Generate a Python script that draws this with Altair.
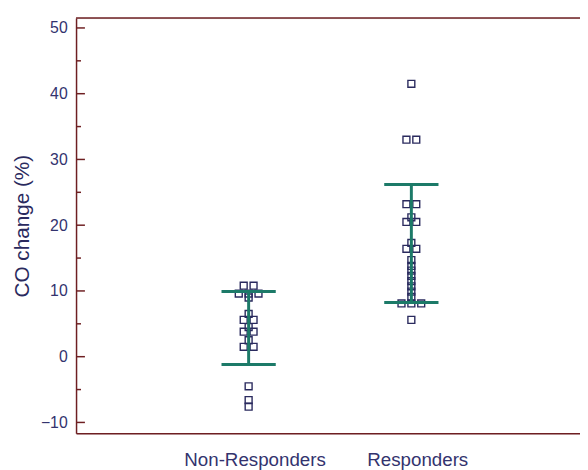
import altair as alt
import pandas as pd

# Categories
groups = ["Non-Responders", "Responders"]
group_pos = [1, 2]

# Individual values (CO change %) and dodge slot for overlapping points
nr_values = [10.8, 10.8, 9.6, 9.6, 9.6, 9.0, 6.5, 5.6, 5.6, 4.5, 3.8, 3.8, 2.5, 1.5, 1.5, -4.5, -6.6, -7.6]
nr_slots = [-0.5, 0.5, -1, 0, 1, 0, 0, -0.5, 0.5, 0, -0.5, 0.5, 0, -0.5, 0.5, 0, 0, 0]

r_values = [41.5, 33.0, 33.0, 23.2, 23.2, 21.2, 20.5, 20.5, 17.3, 16.4, 16.4,
            14.7, 13.8, 13.1, 12.3, 11.5, 10.7, 9.9, 9.1, 8.1, 8.1, 8.1, 5.6]
r_slots = [0, -0.5, 0.5, -0.5, 0.5, 0, -0.5, 0.5, 0, -0.5, 0.5,
           0, 0, 0, 0, 0, 0, 0, 0, -1, 0, 1, 0]

# Error bar extents (low, high)
bar_low = [-1.2, 8.25]
bar_high = [9.9, 26.2]

# Axis ticks
major_ticks = [-10, 0, 10, 20, 30, 40, 50]
minor_ticks = [-5, 5, 15, 25, 35, 45]

NAVY = "#2a2a5e"
LABEL = "#33336e"
TEAL = "#1c7a68"
AXIS = "#6e1f22"

pts = pd.DataFrame({
    "group": [groups[0]] * len(nr_values) + [groups[1]] * len(r_values),
    "pos": [group_pos[0]] * len(nr_values) + [group_pos[1]] * len(r_values),
    "value": nr_values + r_values,
    "slot": nr_slots + r_slots,
})
bars = pd.DataFrame({"group": groups, "pos": group_pos, "low": bar_low, "high": bar_high})
majors = pd.DataFrame({"v": major_ticks})
minors = pd.DataFrame({"v": minor_ticks})

W, H = 511, 421
xscale = alt.Scale(domain=[-0.0606, 3.0364], nice=False, zero=False)
yscale = alt.Scale(domain=[-11.65, 51.5], nice=False, zero=False)

label_expr = "datum.value == %d ? '%s' : '%s'" % (group_pos[0], groups[0], groups[1])

xaxis = alt.Axis(values=group_pos, labelExpr=label_expr, title=None, ticks=False,
                 grid=False, domainColor=AXIS, domainWidth=1.5, labelColor=LABEL,
                 labelFontSize=19, labelPadding=18, labelOffset=6, labelFont="Liberation Sans")
yaxis = alt.Axis(values=major_ticks, title="CO change (%)", ticks=False, grid=False,
                 domainColor=AXIS, domainWidth=1.5, labelColor=LABEL, labelFontSize=16,
                 labelPadding=9, labelFont="Liberation Sans", titleFont="Liberation Sans",
                 titleFontSize=21, titleFontWeight="normal", titleColor=NAVY, titlePadding=8)

points = alt.Chart(pts).transform_calculate(
    xj="datum.pos + datum.slot * 0.0606"
).mark_point(shape="square", filled=False, size=49, strokeWidth=1.4, color=NAVY, opacity=1).encode(
    x=alt.X("xj:Q", scale=xscale, axis=xaxis),
    y=alt.Y("value:Q", scale=yscale, axis=yaxis),
)

vline = alt.Chart(bars).mark_rule(color=TEAL, strokeWidth=3).encode(
    x=alt.X("pos:Q", scale=xscale),
    y=alt.Y("low:Q", scale=yscale),
    y2="high:Q",
)
cap_lo = alt.Chart(bars).transform_calculate(
    a="datum.pos - 0.1667", b="datum.pos + 0.1667"
).mark_rule(color=TEAL, strokeWidth=3).encode(
    x=alt.X("a:Q", scale=xscale), x2="b:Q", y=alt.Y("low:Q", scale=yscale)
)
cap_hi = alt.Chart(bars).transform_calculate(
    a="datum.pos - 0.1667", b="datum.pos + 0.1667"
).mark_rule(color=TEAL, strokeWidth=3).encode(
    x=alt.X("a:Q", scale=xscale), x2="b:Q", y=alt.Y("high:Q", scale=yscale)
)

major_r = alt.Chart(majors).mark_rule(color=AXIS, strokeWidth=1.5).encode(
    x=alt.value(0), x2=alt.value(9), y=alt.Y("v:Q", scale=yscale)
)
minor_r = alt.Chart(minors).mark_rule(color=AXIS, strokeWidth=1.5).encode(
    x=alt.value(0), x2=alt.value(5), y=alt.Y("v:Q", scale=yscale)
)
top_r = alt.Chart(pd.DataFrame({"v": [0]})).mark_rule(color=AXIS, strokeWidth=1.5).encode(
    x=alt.value(0), x2=alt.value(W), y=alt.value(0)
)

chart = alt.layer(points, vline, cap_lo, cap_hi, major_r, minor_r, top_r).properties(
    width=W, height=H,
    autosize=alt.AutoSizeParams(type="none"),
    padding={"left": 69, "top": 7, "right": 0, "bottom": 34},
).configure_view(strokeWidth=0).configure(background="white")

chart.save("out.html", embed_options={"renderer": "svg", "actions": False})
